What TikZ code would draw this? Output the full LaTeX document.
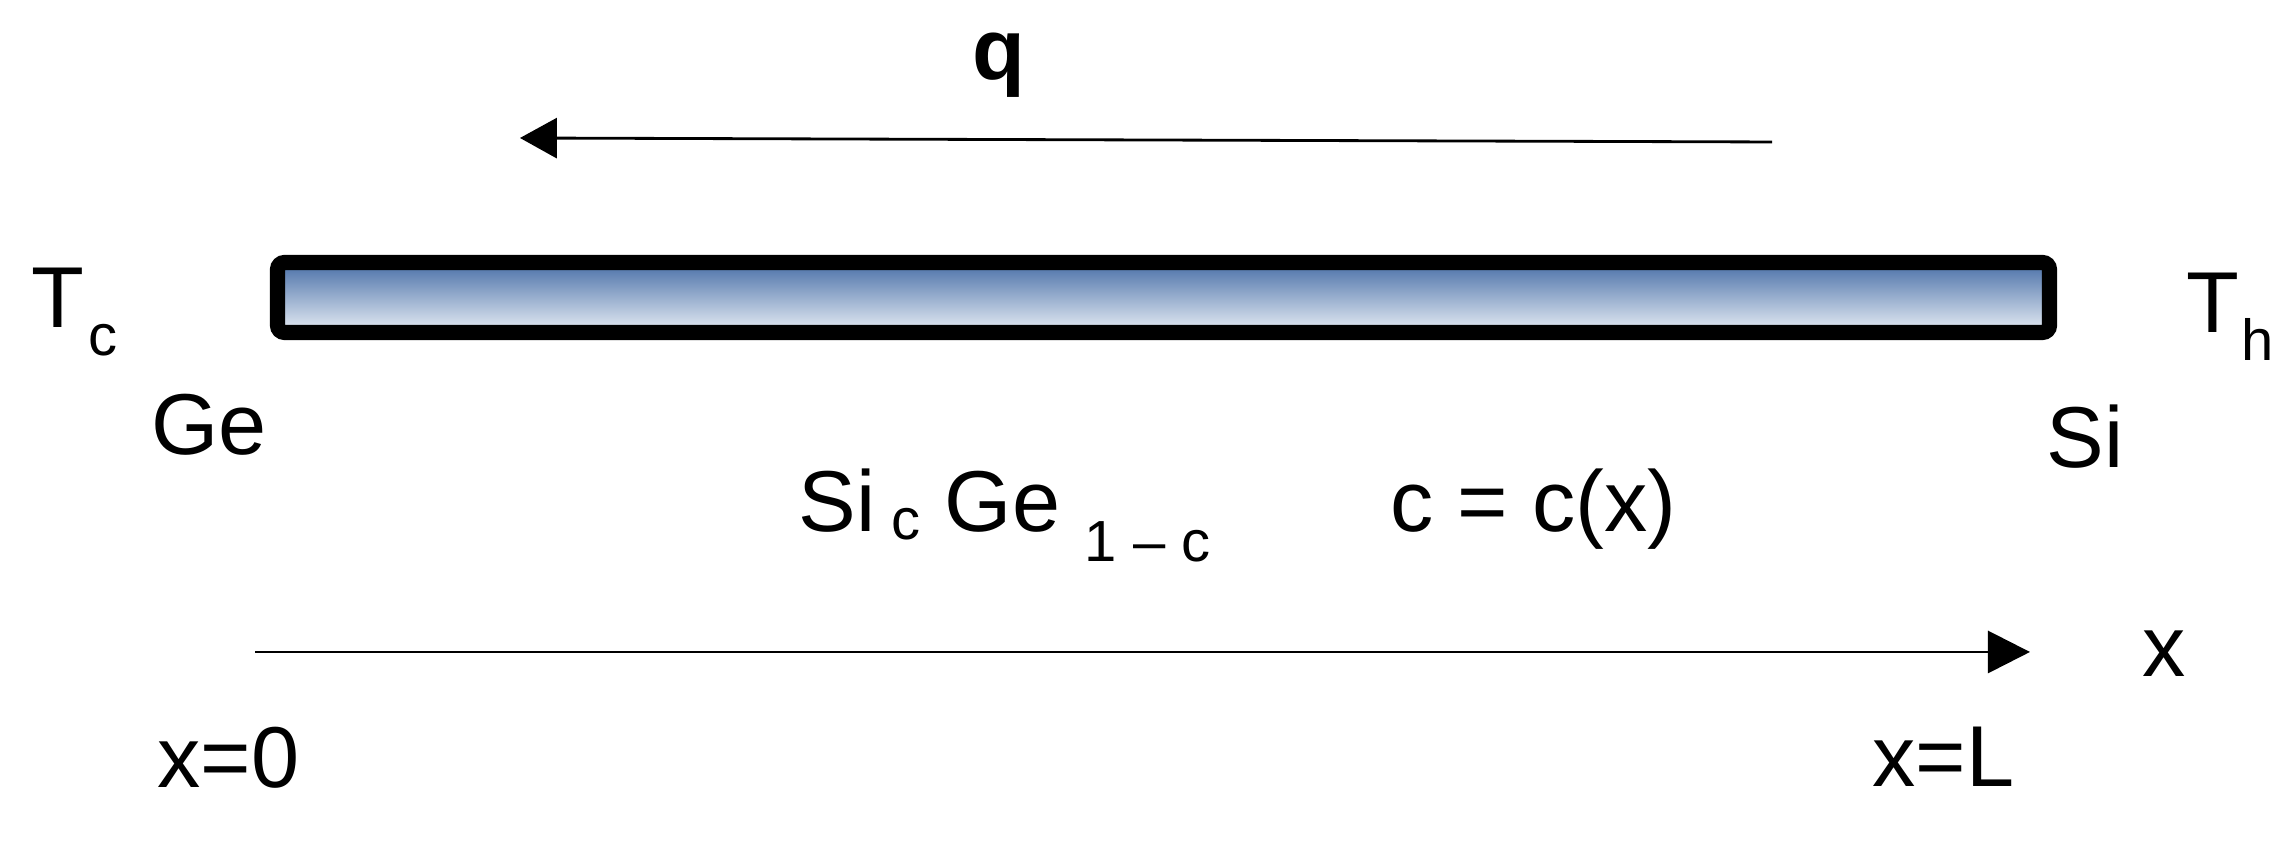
\documentclass[tikz,border=0pt]{standalone}
\usepackage{fontspec}
\setmainfont{Liberation Sans}
\usetikzlibrary{arrows.meta}
\definecolor{barTop}{RGB}{74,112,168}
\definecolor{barBot}{RGB}{232,238,245}
\newcommand{\bigsz}{\fontsize{24.6}{29}\selectfont}
\newcommand{\subsz}{\fontsize{16.5}{19}\selectfont}
\tikzset{
  lbl/.style={inner sep=0pt, anchor=base west, font=\bigsz},
  rod/.style={draw=black, line width=4.3pt, rounded corners=2pt, inner sep=0pt,
    top color=barTop, bottom color=barBot, minimum width=17.72cm, minimum height=0.7cm},
  flow/.style={line width=0.8pt, -{Triangle[length=10.5pt, width=11.4pt]}},
  axis/.style={line width=0.8pt, -{Triangle[length=12pt, width=12pt]}}
}

\begin{document}
\begin{tikzpicture}
		%%%%% START %%%%%
		\useasboundingbox (0, 0) rectangle (22.88, 8.41);
		
		% the rod
		\node[rod] (bar) at (11.635, 5.435) {};
		
		% heat flux
		\coordinate (qstart) at (17.72, 6.99);
		\coordinate (qend) at (5.20, 7.03);
		\draw[flow] (qstart) -- (qend);
		\node[lbl] (q) at (9.72, 7.61) {\textbf{q}};
		
		% ends of the rod
		\node[lbl] (tc) at (0.31, 5.13) {T\kern1pt\raisebox{-7.7pt}{\subsz c}};
		\node[lbl] (th) at (21.86, 5.08) {T\kern0.5pt\raisebox{-7.7pt}{\subsz h}};
		\node[lbl] (ge) at (1.51, 3.86) {Ge};
		\node[lbl] (si) at (20.46, 3.73) {Si};
		
		% composition
		\node[lbl] (alloy) at (7.98, 3.09) {Si\kern4.5pt\raisebox{-2pt}{\subsz c}\kern7pt Ge\kern7pt\raisebox{-8.3pt}{\subsz 1 -- c}};
		\node[lbl] (conc) at (13.90, 3.09) {c = c(x)};
		
		% axis
		\coordinate (xstart) at (2.55, 1.89);
		\coordinate (xend) at (20.30, 1.89);
		\draw[axis] (xstart) -- (xend);
		\node[lbl] (xlab) at (21.42, 1.64) {x};
		\node[lbl] (x0) at (1.57, 0.53) {x=0};
		\node[lbl] (xL) at (18.72, 0.54) {x=L};
		%%%%% END %%%%%
\end{tikzpicture}
\end{document}
